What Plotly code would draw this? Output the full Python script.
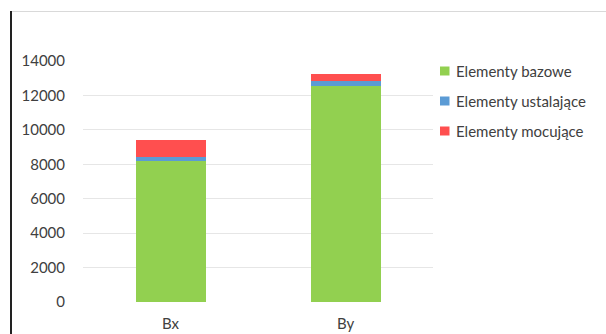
import plotly.graph_objects as go

categories = ["Bx", "By"]
series_names = ["Elementy bazowe", "Elementy ustalające", "Elementy mocujące"]
bazowe = [8190, 12570]
ustalajace = [230, 270]
mocujace = [970, 430]
colors = ["#92D050", "#5B9BD5", "#FF4F4F"]
y_ticks = [0, 2000, 4000, 6000, 8000, 10000, 12000, 14000]
y_tick_labels = ["0", "2000", "4000", "6000", "8000", "10000", "12000", "14000"]

font_family = "Lato, 'Open Sans', sans-serif"
text_color = "#404040"

L, R, T, B = 83, 173, 61, 32
W, H = 606, 334
plot_w = W - L - R
plot_h = H - T - B


def px_x(px):
    return (px - L) / plot_w


def px_y(py):
    return (H - B - py) / plot_h


fig = go.Figure()
for name, vals, col in zip(series_names, [bazowe, ustalajace, mocujace], colors):
    fig.add_trace(go.Bar(x=categories, y=vals, name=name, marker_color=col,
                         marker_line_width=0, showlegend=False))

shapes = [
    dict(type="line", xref="paper", yref="paper", x0=px_x(11), x1=px_x(606),
         y0=px_y(11.5), y1=px_y(11.5), line=dict(color="#D9D9D9", width=1)),
    dict(type="line", xref="paper", yref="paper", x0=px_x(11), x1=px_x(11),
         y0=px_y(11), y1=px_y(334), line=dict(color="#222222", width=2)),
]
annotations = []
legend_y = [71, 101, 131]
for name, col, ly in zip(series_names, colors, legend_y):
    shapes.append(dict(type="rect", xref="paper", yref="paper",
                       x0=px_x(440), x1=px_x(449.5), y0=px_y(ly - 4.5), y1=px_y(ly + 4.5),
                       fillcolor=col, line=dict(width=0)))
    annotations.append(dict(xref="paper", yref="paper", x=px_x(454), y=px_y(ly),
                            xanchor="left", yanchor="middle", showarrow=False,
                            text=name, font=dict(size=15, color=text_color)))

fig.update_layout(
    width=W, height=H,
    margin=dict(l=L, r=R, t=T, b=B, autoexpand=False),
    barmode="stack", bargap=0.6,
    paper_bgcolor="white", plot_bgcolor="white",
    font=dict(family=font_family, size=15, color=text_color),
    showlegend=False,
    xaxis=dict(showgrid=False, showline=False, zeroline=False,
               ticks="outside", ticklen=8, tickcolor="rgba(0,0,0,0)"),
    yaxis=dict(range=[0, 14000], tickvals=y_ticks, ticktext=y_tick_labels, showgrid=True,
               gridcolor="#E6E6E6", gridwidth=1, zeroline=False, showline=False,
               ticks="outside", ticklen=14, tickcolor="rgba(0,0,0,0)"),
    shapes=shapes,
    annotations=annotations,
)

fig.write_html("out.html")
